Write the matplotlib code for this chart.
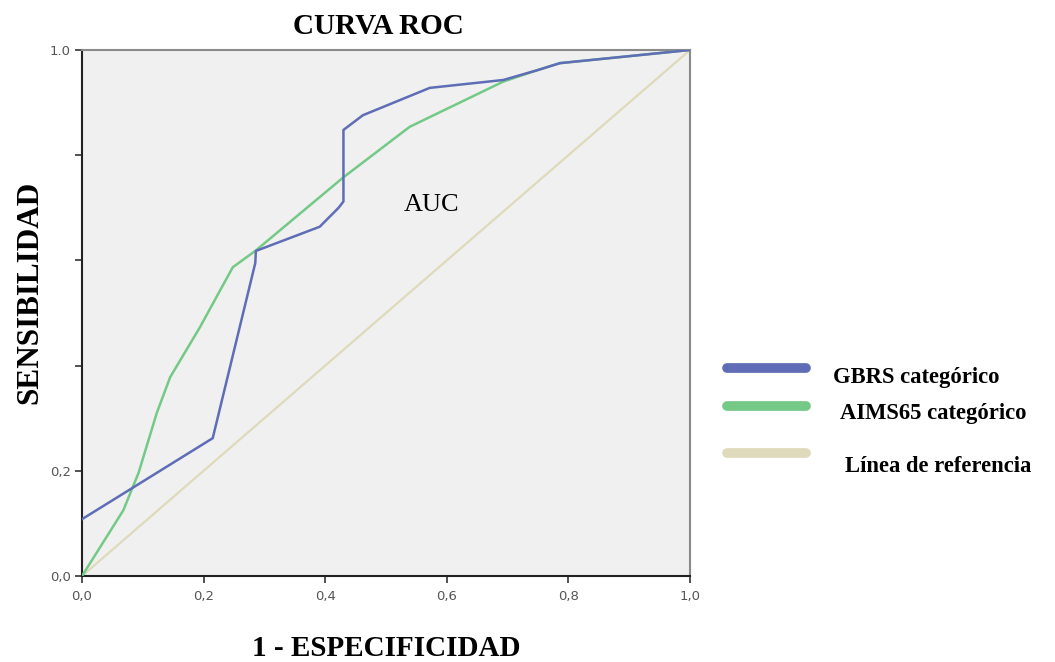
import matplotlib
matplotlib.use("Agg")
import matplotlib.pyplot as plt
from matplotlib.lines import Line2D

# Data
gbrs_fpr = [0.0, 0.215, 0.285, 0.286, 0.391, 0.422, 0.430, 0.430, 0.462, 0.572, 0.693, 0.750, 0.786, 1.0]
gbrs_tpr = [0.108, 0.262, 0.595, 0.618, 0.664, 0.700, 0.712, 0.848, 0.876, 0.928, 0.943, 0.962, 0.975, 1.0]

aims_fpr = [0.0, 0.068, 0.093, 0.123, 0.145, 0.194, 0.248, 0.285, 0.430, 0.539, 0.693, 0.750, 0.786, 1.0]
aims_tpr = [0.0, 0.125, 0.196, 0.310, 0.378, 0.473, 0.587, 0.618, 0.758, 0.854, 0.940, 0.962, 0.975, 1.0]

ref_x = [0.0, 1.0]
ref_y = [0.0, 1.0]

x_ticks = [0.0, 0.2, 0.4, 0.6, 0.8, 1.0]
x_tick_labels = ["0,0", "0,2", "0,4", "0,6", "0,8", "1,0"]
y_ticks = [0.0, 0.2, 0.4, 0.6, 0.8, 1.0]
y_tick_labels = ["0,0", "0,2", "", "", "", "1.0"]

series_names = ["GBRS categórico", "AIMS65 categórico", "Línea de referencia"]
series_colors = ["#5e6db5", "#74c987", "#dedabb"]

W, H = 1055, 662
fig = plt.figure(figsize=(W / 100, H / 100), dpi=100)
fig.patch.set_facecolor("white")
ax = fig.add_axes([82 / W, 1 - 576 / H, (690 - 82) / W, (576 - 50) / H])
ax.set_facecolor("#f0f0f0")

ax.plot(ref_x, ref_y, color=series_colors[2], lw=1.6, zorder=2)
ax.plot(aims_fpr, aims_tpr, color=series_colors[1], lw=1.8, zorder=3)
ax.plot(gbrs_fpr, gbrs_tpr, color=series_colors[0], lw=1.8, zorder=4)

ax.set_xlim(0, 1)
ax.set_ylim(0, 1)
ax.set_xticks(x_ticks)
ax.set_xticklabels(x_tick_labels)
ax.set_yticks(y_ticks)
ax.set_yticklabels(y_tick_labels)
ax.tick_params(axis="both", direction="out", length=5, width=1.2, color="#333333",
               labelsize=9.5, labelcolor="#555555", pad=3)
ax.tick_params(axis="x", pad=5)

for side in ["left", "bottom"]:
    ax.spines[side].set_color("#222222")
    ax.spines[side].set_linewidth(1.5)
for side in ["top", "right"]:
    ax.spines[side].set_color("#8a8a8a")
    ax.spines[side].set_linewidth(1.5)

serif = ["Liberation Serif", "DejaVu Serif"]

ax.text(0.575, 0.705, "AUC", fontsize=19, family=serif, color="black",
        ha="center", va="center", transform=ax.transData)

fig.text(378 / W, 1 - 27 / H, "CURVA ROC", fontsize=21, fontweight="bold",
         family=serif, ha="center", va="center")
fig.text(30 / W, 1 - 292 / H, "SENSIBILIDAD", fontsize=22.5, fontweight="bold",
         family=serif, ha="center", va="center", rotation=90)
fig.text(386 / W, 1 - 648 / H, "1 - ESPECIFICIDAD", fontsize=21, fontweight="bold",
         family=serif, ha="center", va="center")

# Legend drawn manually in figure coordinates
leg_line_y = [368, 406, 453]
leg_text_pos = [(833, 377), (840, 414), (845, 467)]
for name, color, ly, (tx, ty) in zip(series_names, series_colors, leg_line_y, leg_text_pos):
    fig.add_artist(Line2D([727 / W, 806 / W], [1 - ly / H, 1 - ly / H], color=color,
                          lw=7, solid_capstyle="round", transform=fig.transFigure))
    fig.text(tx / W, 1 - ty / H, name, fontsize=16.3, fontweight="bold", family=serif,
             ha="left", va="center")

fig.savefig("out.png", dpi=100, facecolor="white")
